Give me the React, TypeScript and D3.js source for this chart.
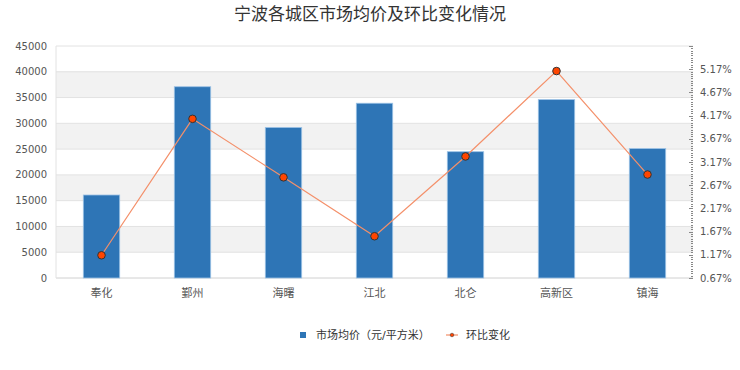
import React from "react";
import * as d3 from "d3";

const districts = ["奉化", "鄞州", "海曙", "江北", "北仑", "高新区", "镇海"];
const avgPrice = [16100, 37100, 29200, 33900, 24500, 34600, 25100];
const momChange = [1.16, 4.1, 2.84, 1.57, 3.29, 5.13, 2.9];
const leftTicks = [0, 5000, 10000, 15000, 20000, 25000, 30000, 35000, 40000, 45000];
const rightTicks = [0.67, 1.17, 1.67, 2.17, 2.67, 3.17, 3.67, 4.17, 4.67, 5.17];

const W = 740;
const H = 370;
const left = 56;
const right = 693;
const top = 46;
const bottom = 278;

const FONT = "'DejaVu Sans', 'Noto Sans CJK SC', sans-serif";

export default function App() {
  const x = d3.scaleBand().domain(districts).range([left, right]).paddingInner(0.6).paddingOuter(0.3);
  const y = d3.scaleLinear().domain([0, 45000]).range([bottom, top]);
  const y2 = d3.scaleLinear().domain([0.67, 5.67]).range([bottom, top]);

  const minor = d3.range(0, 101).map((i) => 0.67 + i * 0.05);

  const line = d3
    .line<number>()
    .x((_, i) => (x(districts[i]) as number) + x.bandwidth() / 2)
    .y((d) => y2(d));

  return (
    <svg width={W} height={H} style={{ position: "absolute", left: 0, top: 0, background: "#fff" }}>
      <text x={370} y={20} textAnchor="middle" fontSize={17} fill="#333" fontFamily={FONT}>
        宁波各城区市场均价及环比变化情况
      </text>

      {/* alternating bands */}
      {leftTicks.slice(0, -1).map((t, i) =>
        i % 2 === 1 ? (
          <rect key={"b" + t} x={left} y={y(t + 5000)} width={right - left} height={y(t) - y(t + 5000)} fill="#f2f2f2" />
        ) : null
      )}
      {leftTicks.map((t) => (
        <line key={"g" + t} x1={left} x2={right} y1={y(t)} y2={y(t)} stroke={t === 0 ? "#d0d0d0" : "#e2e2e2"} strokeWidth={1} />
      ))}
      <line x1={left} x2={left} y1={top} y2={bottom} stroke="#e2e2e2" />

      {leftTicks.map((t) => (
        <text key={"l" + t} x={47} y={y(t)} dy="0.35em" textAnchor="end" fontSize={10} fill="#555" fontFamily={FONT}>
          {t}
        </text>
      ))}

      {/* right axis */}
      {minor.map((v, i) => (
        <line
          key={"m" + i}
          x1={i % 10 === 0 ? right - 4 : right - 2}
          x2={right}
          y1={Math.round(y2(v)) + 0.5}
          y2={Math.round(y2(v)) + 0.5}
          stroke="#888"
          strokeWidth={1}
        />
      ))}
      {rightTicks.map((t) => (
        <text key={"r" + t} x={700} y={y2(t)} dy="0.35em" fontSize={10} fill="#555" fontFamily={FONT}>
          {t.toFixed(2)}%
        </text>
      ))}

      {/* bars */}
      {districts.map((d, i) => (
        <rect
          key={"bar" + d}
          x={x(d)}
          y={y(avgPrice[i])}
          width={x.bandwidth()}
          height={bottom - y(avgPrice[i])}
          fill="#2e75b6"
          stroke="#9dc3e6"
          strokeWidth={0.8}
        />
      ))}

      {districts.map((d) => (
        <text
          key={"c" + d}
          x={(x(d) as number) + x.bandwidth() / 2}
          y={297}
          textAnchor="middle"
          fontSize={11}
          fill="#555"
          fontFamily={FONT}
        >
          {d}
        </text>
      ))}

      {/* line */}
      <path d={line(momChange) as string} fill="none" stroke="#f4906a" strokeWidth={1.2} />
      {momChange.map((v, i) => (
        <circle
          key={"p" + i}
          cx={(x(districts[i]) as number) + x.bandwidth() / 2}
          cy={y2(v)}
          r={3.8}
          fill="#ff4500"
          stroke="#333"
          strokeWidth={1}
        />
      ))}

      {/* legend */}
      <rect x={300} y={332} width={6} height={6} fill="#2e75b6" />
      <text x={316} y={339} fontSize={11} fill="#333" fontFamily={FONT}>
        市场均价（元/平方米）
      </text>
      <line x1={446} x2={458} y1={335} y2={335} stroke="#f4906a" strokeWidth={1.2} />
      <circle cx={452} cy={335} r={1.8} fill="#ff4500" stroke="#333" strokeWidth={0.5} />
      <text x={466} y={339} fontSize={11} fill="#333" fontFamily={FONT}>
        环比变化
      </text>
    </svg>
  );
}
